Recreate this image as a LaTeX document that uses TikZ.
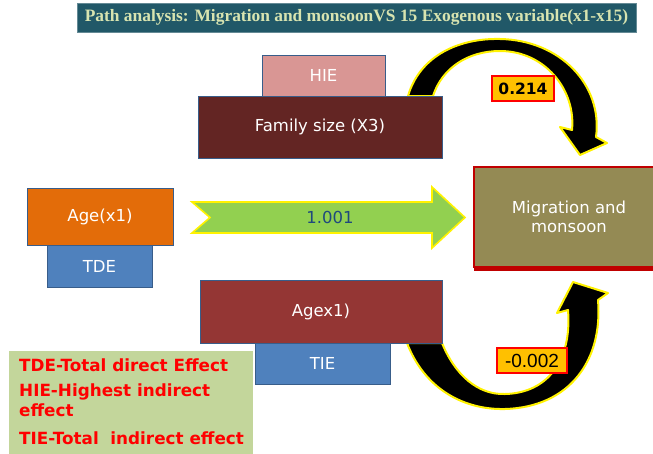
\documentclass[tikz,border=0pt]{standalone}
\usepackage{fontspec}
\setmainfont{DejaVu Sans}
\newfontfamily\titlefont{Liberation Serif}
\newfontfamily\arialfont{Liberation Sans}
\definecolor{titlebg}{HTML}{215868}
\definecolor{titletxt}{HTML}{D8E4B0}
\definecolor{hiefill}{HTML}{D99694}
\definecolor{famfill}{HTML}{632523}
\definecolor{agefill}{HTML}{E36C09}
\definecolor{bluefill}{HTML}{4F81BD}
\definecolor{migfill}{HTML}{948A54}
\definecolor{agexfill}{HTML}{943634}
\definecolor{legfill}{HTML}{C3D69B}
\definecolor{greenfill}{HTML}{92D050}
\definecolor{boxline}{HTML}{385D8A}
\definecolor{migline}{HTML}{C00000}
\definecolor{labfill}{HTML}{FFC000}
\definecolor{numblue}{HTML}{1F497D}
\tikzset{
  box/.style={draw=boxline, line width=0.8pt, text=white, inner sep=0pt, outer sep=0pt,
    font=\fontsize{16.5}{19}\selectfont},
  curvearrow/.style={fill=black, draw=yellow, line width=2pt, line join=round},
  labbox/.style={fill=labfill, draw=red, line width=1.2pt, inner sep=0pt, outer sep=0pt},
  legtext/.style={text=red, anchor=west, inner sep=0pt, font=\bfseries\fontsize{16.8}{19}\selectfont},
}
\begin{document}
\begin{tikzpicture}[x=1pt,y=-1pt]
\useasboundingbox (0,0) rectangle (653,453);
\fill[white] (0,0) rectangle (653,453);
% title
\node[fill=titlebg, draw=titlebg!70!white, line width=0.6pt, minimum width=559pt, minimum height=29pt, inner sep=0pt,
  text=titletxt, font=\titlefont\bfseries\fontsize{17.4}{19}\selectfont] (title) at (356.5,17.5)
  {Path analysis: Migration and monsoonVS 15 Exogenous variable(x1-x15)};
% curved arrows
\draw[curvearrow] (408,96) .. controls (420,55) and (460,38) .. (500,39)
  .. controls (560,40) and (603,85) .. (596,137) -- (607,143) -- (580,155) -- (560,127) -- (572,130)
  .. controls (576,90) and (545,51) .. (500,51) .. controls (468,51) and (442,68) .. (433,96) -- cycle;
\draw[curvearrow] (407,343) .. controls (425,390) and (465,410) .. (505,409)
  .. controls (570,407) and (603,360) .. (598,300) -- (608,293) -- (573,282) -- (557,313) -- (568,310)
  .. controls (572,360) and (548,393) .. (505,394) .. controls (478,395) and (455,375) .. (442,343) -- cycle;
% boxes
\node[box, fill=hiefill, minimum width=123pt, minimum height=41pt] (hie) at (323.5,75.5) {HIE};
\node[box, fill=famfill, minimum width=244pt, minimum height=62pt] (fam) at (320,127) {Family size (X3)};
\node[box, fill=bluefill, minimum width=105pt, minimum height=42pt] (tde) at (99.5,266) {TDE};
\node[box, fill=agefill, minimum width=146pt, minimum height=57pt] (age) at (100,216.5) {Age(x1)};
\node[box, fill=bluefill, minimum width=135pt, minimum height=41pt] (tie) at (322.5,363.5) {TIE};
\node[box, fill=agexfill, minimum width=242pt, minimum height=63pt] (agex) at (321,311.5) {Agex1)};
\node[box, fill=migfill, draw=migline, line width=1.2pt, minimum width=190pt, minimum height=100pt,
  align=center, font=\fontsize{16.5}{19}\selectfont] (mig) at (569,217) {Migration and\\monsoon};
\draw[migline, line width=4pt] ([yshift=-1.5pt]mig.south west) -- ([yshift=-1.5pt]mig.south east);
% green arrow
\draw[fill=greenfill, draw=yellow, line width=1.6pt, line join=miter]
  (192,202) -- (432,202) -- (432,187) -- (465,217.5) -- (432,248) -- (432,233) -- (192,233) -- (210,217.5) -- cycle;
\node[text=numblue, font=\fontsize{16.5}{19}\selectfont, inner sep=0pt] (num) at (330,217.5) {1.001};
% labels
\node[labbox, minimum width=62pt, minimum height=25pt, font=\bfseries\fontsize{15.5}{17}\selectfont] (l1) at (523,88.5) {0.214};
\node[labbox, minimum width=70pt, minimum height=25pt, font=\arialfont\fontsize{19}{20}\selectfont] (l2) at (532,360.5) {-0.002};
% legend
\node[fill=legfill, minimum width=244pt, minimum height=104pt, inner sep=0pt, outer sep=0pt] (leg) at (131,403) {};
\node[legtext] (leg1) at (19,365) {TDE-Total direct Effect};
\node[legtext] (leg2) at (19,392) {HIE-Highest indirect};
\node[legtext] (leg3) at (19,410) {effect};
\node[legtext] (leg4) at (19,438) {TIE-Total\ \ indirect effect};
\end{tikzpicture}
\end{document}
